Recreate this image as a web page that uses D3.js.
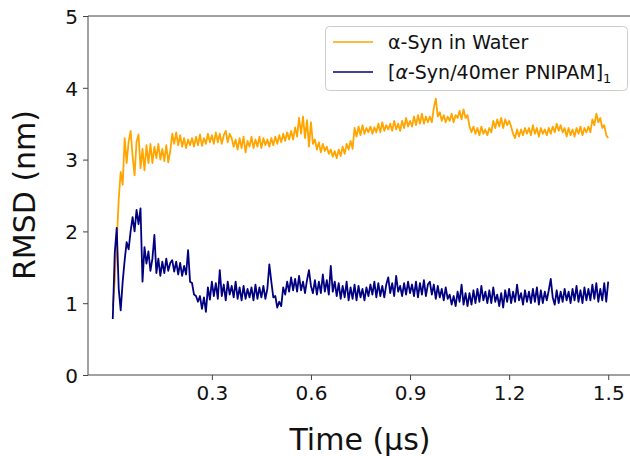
<!DOCTYPE html>
<html>
<head>
<meta charset="utf-8">
<script src="https://cdn.jsdelivr.net/npm/d3@7"></script>
<style>
  html, body { margin: 0; padding: 0; background: #fff; }
  svg { display: block; font-family: "DejaVu Sans", sans-serif; }
</style>
</head>
<body>
<svg id="chart" width="630" height="456"></svg>
<script>
// ---- data ----
const timeStep = 0.006; // µs between samples
const waterRMSD = [
  0.95, 1.30, 1.85, 2.45, 2.83, 2.65, 3.30, 2.95, 3.25, 3.40,
  3.05, 2.78, 3.25, 3.35, 2.88, 3.15, 2.85, 3.20, 2.95, 3.22,
  2.95, 3.18, 3.02, 3.22, 3.00, 3.15, 2.98, 3.20, 2.96, 3.12,
  3.36, 3.22, 3.38, 3.20, 3.34, 3.18, 3.30, 3.16, 3.28, 3.20,
  3.30, 3.18, 3.32, 3.20, 3.35, 3.19, 3.30, 3.22, 3.36, 3.24,
  3.34, 3.22, 3.38, 3.24, 3.36, 3.22, 3.34, 3.40, 3.24, 3.36,
  3.30, 3.18, 3.28, 3.14, 3.30, 3.16, 3.32, 3.10, 3.26, 3.18,
  3.32, 3.16, 3.28, 3.18, 3.32, 3.16, 3.30, 3.20, 3.28, 3.18,
  3.30, 3.20, 3.32, 3.22, 3.34, 3.24, 3.36, 3.26, 3.38, 3.28,
  3.40, 3.28, 3.45, 3.32, 3.58, 3.36, 3.60, 3.30, 3.55, 3.18,
  3.52, 3.22, 3.28, 3.14, 3.24, 3.10, 3.22, 3.12, 3.18, 3.08,
  3.14, 3.04, 3.12, 3.02, 3.14, 3.05, 3.18, 3.08, 3.22, 3.14,
  3.26, 3.15, 3.44, 3.32, 3.46, 3.34, 3.48, 3.36, 3.44, 3.38,
  3.46, 3.36, 3.45, 3.38, 3.50, 3.38, 3.52, 3.40, 3.48, 3.42,
  3.50, 3.40, 3.54, 3.42, 3.50, 3.40, 3.54, 3.44, 3.58, 3.46,
  3.54, 3.46, 3.60, 3.48, 3.62, 3.50, 3.64, 3.50, 3.60, 3.52,
  3.60, 3.52, 3.72, 3.85, 3.60, 3.66, 3.54, 3.62, 3.52, 3.60,
  3.54, 3.64, 3.52, 3.62, 3.58, 3.68, 3.56, 3.70, 3.58, 3.62,
  3.46, 3.38, 3.46, 3.36, 3.44, 3.34, 3.46, 3.36, 3.42, 3.34,
  3.44, 3.38, 3.54, 3.44, 3.56, 3.46, 3.58, 3.44, 3.56, 3.48,
  3.54, 3.46, 3.36, 3.30, 3.42, 3.32, 3.42, 3.34, 3.44, 3.36,
  3.44, 3.34, 3.48, 3.36, 3.44, 3.32, 3.44, 3.36, 3.42, 3.34,
  3.44, 3.36, 3.46, 3.38, 3.50, 3.40, 3.48, 3.38, 3.44, 3.32,
  3.44, 3.34, 3.42, 3.32, 3.44, 3.36, 3.46, 3.34, 3.44, 3.38,
  3.46, 3.38, 3.56, 3.48, 3.64, 3.52, 3.58, 3.44, 3.48, 3.34, 3.30
];
const pnipamRMSD = [
  0.78, 1.70, 2.05, 1.20, 0.90, 1.30, 1.60, 1.85, 1.75, 2.00,
  2.20, 2.00, 2.30, 2.10, 2.32, 1.30, 1.78, 1.55, 1.72, 1.45,
  1.62, 1.95, 1.42, 1.62, 1.38, 1.58, 1.42, 1.62, 1.45, 1.56,
  1.60, 1.44, 1.58, 1.40, 1.56, 1.38, 1.52, 1.40, 1.74, 1.30,
  1.28, 1.12, 1.10, 1.02, 1.10, 0.92, 1.08, 0.88, 1.22, 1.05,
  1.30, 1.10, 1.28, 1.06, 1.46, 1.10, 1.26, 1.04, 1.30, 1.12,
  1.24, 1.08, 1.30, 1.06, 1.22, 1.04, 1.24, 1.06, 1.20, 1.08,
  1.22, 1.04, 1.26, 1.06, 1.22, 1.08, 1.24, 1.06, 1.20, 1.54,
  1.30, 1.08, 1.10, 0.94, 1.02, 0.96, 1.22, 1.12, 1.30, 1.16,
  1.36, 1.18, 1.34, 1.16, 1.38, 1.18, 1.30, 1.14, 1.32, 1.46,
  1.24, 1.14, 1.32, 1.12, 1.30, 1.14, 1.40, 1.16, 1.32, 1.12,
  1.52, 1.16, 1.30, 1.10, 1.28, 1.06, 1.24, 1.08, 1.30, 1.04,
  1.22, 1.06, 1.26, 1.04, 1.24, 1.08, 1.20, 1.04, 1.22, 1.10,
  1.26, 1.12, 1.30, 1.08, 1.28, 1.10, 1.24, 1.08, 1.26, 1.36,
  1.14, 1.28, 1.10, 1.38, 1.16, 1.24, 1.10, 1.28, 1.12, 1.30,
  1.14, 1.26, 1.10, 1.30, 1.08, 1.28, 1.12, 1.32, 1.10, 1.26,
  1.30, 1.12, 1.26, 1.06, 1.24, 1.08, 1.20, 1.04, 1.22, 1.06,
  1.12, 0.98, 1.10, 0.96, 1.16, 1.02, 1.26, 0.98, 1.14, 0.96,
  1.14, 0.98, 1.18, 1.00, 1.20, 1.02, 1.24, 1.04, 1.16, 1.00,
  1.18, 1.00, 1.22, 1.02, 1.12, 0.96, 1.14, 0.94, 1.18, 1.02,
  1.20, 1.00, 1.16, 1.02, 1.26, 1.04, 1.14, 0.98, 1.18, 1.02,
  1.16, 1.00, 1.20, 1.02, 1.22, 0.98, 1.18, 1.00, 1.16, 1.04,
  1.18, 1.34, 1.08, 0.98, 1.18, 1.00, 1.16, 1.02, 1.20, 1.04,
  1.16, 1.00, 1.20, 1.04, 1.24, 1.02, 1.18, 1.00, 1.22, 1.04,
  1.20, 1.04, 1.26, 1.06, 1.28, 1.02, 1.20, 1.04, 1.28, 1.02, 1.30
];
const xTicks = [0.3, 0.6, 0.9, 1.2, 1.5];
const yTicks = [0, 1, 2, 3, 4, 5];
const seriesNames = ["α-Syn in Water", "[α-Syn/40mer PNIPAM]1"];
const seriesColors = ["#FFA500", "#000080"];

// ---- chart ----
const svg = d3.select("#chart");
const mLeft = 88, mRight = 633, mTop = 16, mBottom = 375;
const x = d3.scaleLinear().domain([-0.075, 1.575]).range([mLeft, mRight]);
const y = d3.scaleLinear().domain([0, 5]).range([mBottom, mTop]);

svg.append("clipPath").attr("id", "plotclip")
  .append("rect").attr("x", mLeft).attr("y", mTop).attr("width", mRight - mLeft).attr("height", mBottom - mTop);

const series = [waterRMSD, pnipamRMSD].map((vals, k) => ({
  name: seriesNames[k], color: seriesColors[k],
  points: vals.map((v, i) => ({ t: i * timeStep, v }))
}));

const line = d3.line().x(d => x(d.t)).y(d => y(d.v));
const plot = svg.append("g").attr("clip-path", "url(#plotclip)");
series.forEach(s => {
  plot.append("path").datum(s.points)
    .attr("fill", "none").attr("stroke", s.color)
    .attr("stroke-width", 1.8).attr("stroke-linejoin", "round")
    .attr("d", line);
});

// axes
const xAxis = d3.axisBottom(x).tickValues(xTicks).tickFormat(d3.format(".1f")).tickSize(5).tickPadding(6);
const yAxis = d3.axisLeft(y).tickValues(yTicks).tickFormat(d3.format("d")).tickSize(5).tickPadding(5);
const gx = svg.append("g").attr("transform", `translate(0,${mBottom})`).call(xAxis);
const gy = svg.append("g").attr("transform", `translate(${mLeft},0)`).call(yAxis);
[gx, gy].forEach(g => {
  g.select(".domain").remove();
  g.selectAll(".tick line").attr("stroke", "#444").attr("stroke-width", 1);
  g.selectAll(".tick text").attr("fill", "#111").style("font-family", "DejaVu Sans").style("font-size", "20px");
});
gy.selectAll(".tick text").attr("dy", "0.36em");

// spines
const spine = (x1, y1, x2, y2) => svg.append("line").attr("x1", x1).attr("y1", y1).attr("x2", x2).attr("y2", y2).attr("stroke", "#444");
spine(mLeft, mTop, mLeft, mBottom);
spine(mLeft, mBottom, mRight, mBottom);
spine(mLeft, mTop, mRight, mTop);
spine(mRight, mTop, mRight, mBottom);

// axis labels
svg.append("text").attr("x", 360).attr("y", 450).attr("text-anchor", "middle")
  .style("font-size", "30px").attr("fill", "#111").text("Time (µs)");
svg.append("text").attr("transform", "translate(35,195) rotate(-90)").attr("text-anchor", "middle")
  .style("font-size", "30px").attr("fill", "#111").text("RMSD (nm)");

// legend
const lg = svg.append("g");
lg.append("rect").attr("x", 325.5).attr("y", 26.5).attr("width", 302).attr("height", 64)
  .attr("rx", 4).attr("fill", "#fff").attr("fill-opacity", 0.8).attr("stroke", "#ccc");
const rowY = [42, 72];
series.forEach((s, k) => {
  lg.append("line").attr("x1", 333).attr("x2", 373).attr("y1", rowY[k]).attr("y2", rowY[k])
    .attr("stroke", s.color).attr("stroke-width", 1.5);
});
lg.append("text").attr("x", 388).attr("y", rowY[0] + 7).style("font-size", "19px").attr("fill", "#111")
  .text(seriesNames[0]);
const t2 = lg.append("text").attr("x", 388).attr("y", rowY[1] + 7).style("font-size", "19px").attr("fill", "#111");
t2.append("tspan").text("[");
t2.append("tspan").style("font-style", "italic").text("α");
t2.append("tspan").text("-Syn/40mer PNIPAM]");
t2.append("tspan").attr("dy", 4).style("font-size", "13px").text("1");
</script>
</body>
</html>
